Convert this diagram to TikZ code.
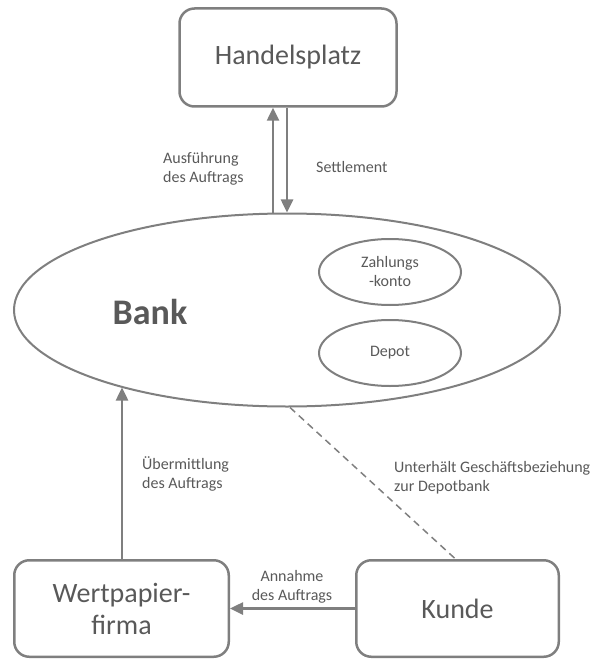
\documentclass[tikz,border=0pt]{standalone}
\usepackage{fontspec}
\setmainfont{Carlito}
\usetikzlibrary{positioning, arrows.meta, shapes.geometric, calc}
\definecolor{linegray}{HTML}{7F7F7F}
\definecolor{textgray}{HTML}{595959}

\begin{document}
\begin{tikzpicture}[x=1pt, y=-1pt,
    box/.style={draw=linegray, line width=2.5pt, rounded corners=15pt, text=textgray, font=\fontsize{28}{32}\selectfont, align=center, inner sep=0pt},
    oval/.style={draw=linegray, ellipse, line width=2pt, text=textgray, inner sep=0pt, font=\fontsize{16}{19}\selectfont, align=center},
    lbl/.style={text=textgray, font=\fontsize{16}{19}\selectfont, align=left, inner sep=0pt},
    arr/.style={draw=linegray, line width=2.5pt, -{Triangle[length=13pt, width=12pt]}}]
    \useasboundingbox (0,0) rectangle (595,660);
    \node[box, minimum width=217pt, minimum height=98pt] (hp) at (288,57.5) {Handelsplatz};
    \node[oval, minimum width=546pt, minimum height=193pt] (bank) at (287,310) {};
    \node[text=textgray, font=\bfseries\fontsize{36}{40}\selectfont] (banktxt) at (150,312) {Bank};
    \node[oval, minimum width=142pt, minimum height=66pt] (zk) at (390,272) {Zahlungs\\-konto};
    \node[oval, minimum width=142pt, minimum height=66pt] (dp) at (390,353) {Depot};
    \node[box, minimum width=214.5pt, minimum height=96.5pt] (wp) at (121.5,608.5) {Wertpapier-\\firma};
    \node[box, minimum width=202.5pt, minimum height=96.5pt] (kd) at (457.5,608.5) {Kunde};
    % labels
    \node[lbl, anchor=west] (ausf) at (163,168.5) {Ausführung\\des Auftrags};
    \node[lbl, anchor=west] (settle) at (316,167) {Settlement};
    \node[lbl, anchor=west] (uebm) at (142,473.5) {Übermittlung\\des Auftrags};
    \node[lbl, anchor=west] (unterh) at (394,477.5) {Unterhält Geschäftsbeziehung\\zur Depotbank};
    \node[lbl, align=center] (annahme) at (292,587) {Annahme\\des Auftrags};
    % connectors
    \draw[arr] ([xshift=-14pt]bank.north) -- ([xshift=-15pt]hp.south);
    \draw[arr] ([xshift=-1pt]hp.south) -- (bank.north);
    \draw[arr] ([xshift=0.5pt]wp.north) -- ([xshift=0.5pt]wp.north |- bank.205);
    \draw[arr] (kd.west) -- (wp.east);
    \draw[draw=linegray, line width=1.5pt, dash pattern=on 7pt off 5pt] ([xshift=3pt]bank.south) -- ([xshift=-2pt]kd.north);
\end{tikzpicture}
\end{document}
